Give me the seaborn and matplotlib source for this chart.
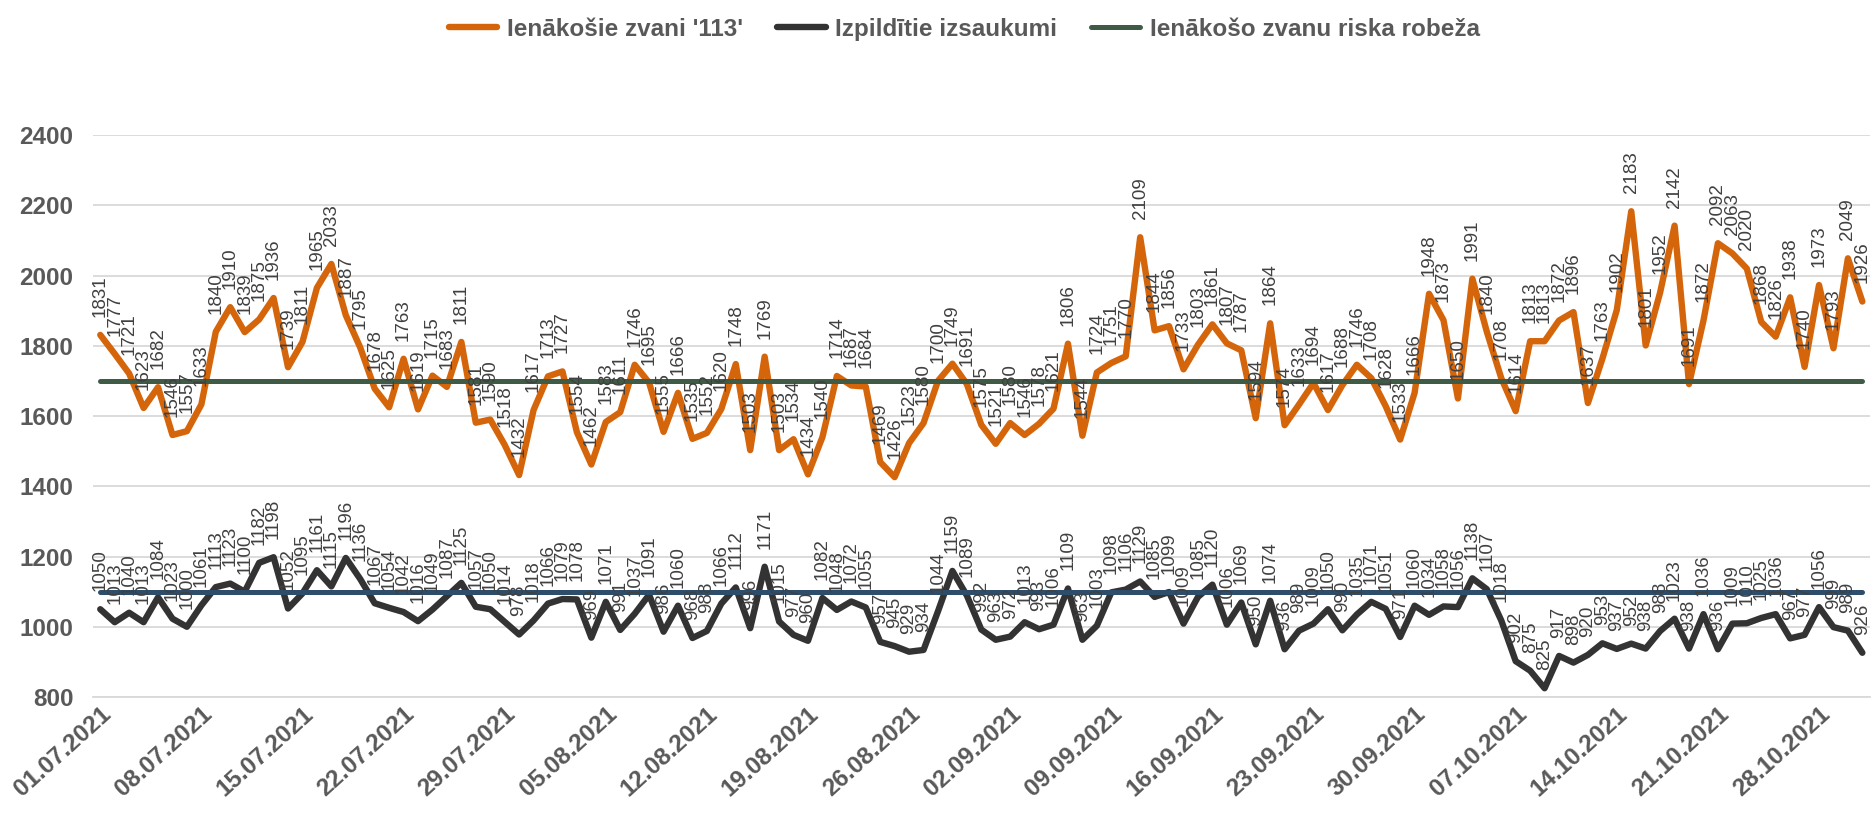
import matplotlib
matplotlib.use("Agg")
import matplotlib.pyplot as plt
import seaborn as sns
import pandas as pd
import numpy as np

# Daily series, 01.07.2021 - 31.10.2021
incoming_calls = [
    1831, 1777, 1721, 1623, 1682, 1546, 1557, 1633, 1840, 1910,
    1839, 1875, 1936, 1739, 1811, 1965, 2033, 1887, 1795, 1678,
    1625, 1763, 1619, 1715, 1683, 1811, 1581, 1590, 1518, 1432,
    1617, 1713, 1727, 1554, 1462, 1583, 1611, 1746, 1695, 1555,
    1666, 1535, 1552, 1620, 1748, 1503, 1769, 1503, 1534, 1434,
    1540, 1714, 1687, 1684, 1469, 1426, 1523, 1580, 1700, 1749,
    1691, 1575, 1521, 1580, 1546, 1578, 1621, 1806, 1544, 1724,
    1751, 1770, 2109, 1844, 1856, 1733, 1803, 1861, 1807, 1787,
    1594, 1864, 1574, 1633, 1694, 1617, 1688, 1746, 1708, 1628,
    1533, 1666, 1948, 1873, 1650, 1991, 1840, 1708, 1614, 1813,
    1813, 1872, 1896, 1637, 1763, 1902, 2183, 1801, 1952, 2142,
    1691, 1872, 2092, 2063, 2020, 1868, 1826, 1938, 1740, 1973,
    1793, 2049, 1926,
]
dispatched_calls = [
    1050, 1013, 1040, 1013, 1084, 1023, 1000, 1061, 1113, 1123,
    1100, 1182, 1198, 1052, 1095, 1161, 1115, 1196, 1136, 1067,
    1054, 1042, 1016, 1049, 1087, 1125, 1057, 1050, 1014, 978,
    1018, 1066, 1079, 1078, 969, 1071, 991, 1037, 1091, 986,
    1060, 968, 988, 1066, 1112, 996, 1171, 1015, 977, 960,
    1082, 1048, 1072, 1055, 957, 945, 929, 934, 1044, 1159,
    1089, 992, 963, 972, 1013, 993, 1006, 1109, 963, 1003,
    1098, 1106, 1129, 1085, 1099, 1009, 1085, 1120, 1006, 1069,
    950, 1074, 936, 989, 1009, 1050, 990, 1035, 1071, 1051,
    971, 1060, 1034, 1058, 1056, 1138, 1107, 1018, 902, 875,
    825, 917, 898, 920, 953, 937, 952, 938, 988, 1023,
    938, 1036, 936, 1009, 1010, 1025, 1036, 967, 977, 1056,
    999, 989, 926,
]
risk_limit = 1700
dispatch_limit = 1100

tick_labels = [
    "01.07.2021", "08.07.2021", "15.07.2021", "22.07.2021", "29.07.2021",
    "05.08.2021", "12.08.2021", "19.08.2021", "26.08.2021", "02.09.2021",
    "09.09.2021", "16.09.2021", "23.09.2021", "30.09.2021", "07.10.2021",
    "14.10.2021", "21.10.2021", "28.10.2021",
]
y_ticks = [800, 1000, 1200, 1400, 1600, 1800, 2000, 2200, 2400]

series_names = ["Ienākošie zvani '113'", "Izpildītie izsaukumi", "Ienākošo zvanu riska robeža"]

C_ORANGE = "#D5650B"
C_DARK = "#333333"
C_GREEN = "#3F5B45"
C_BLUE = "#2D4D6A"
C_LABEL = "#404040"
C_AXIS = "#595959"

sns.set_theme(style="white")
plt.rcParams["font.family"] = ["Liberation Sans", "DejaVu Sans"]

n = len(incoming_calls)
df = pd.DataFrame({
    "day": np.arange(n),
    "incoming": incoming_calls,
    "dispatched": dispatched_calls,
    "risk": [risk_limit] * n,
    "dlimit": [dispatch_limit] * n,
})

fig = plt.figure(figsize=(18.72, 8.16), dpi=100)
ax = fig.add_axes([0.0497, 0.1458, 0.949, 0.6887])

line_kw = dict(solid_joinstyle="round", solid_capstyle="round")
sns.lineplot(data=df, x="day", y="incoming", ax=ax, color=C_ORANGE, lw=4.6,
             label=series_names[0], zorder=3, **line_kw)
sns.lineplot(data=df, x="day", y="dispatched", ax=ax, color=C_DARK, lw=4.6,
             label=series_names[1], zorder=3, **line_kw)
sns.lineplot(data=df, x="day", y="risk", ax=ax, color=C_GREEN, lw=3.6,
             label=series_names[2], zorder=4, **line_kw)
sns.lineplot(data=df, x="day", y="dlimit", ax=ax, color=C_BLUE, lw=3.6,
             label="_nolegend_", zorder=4, **line_kw)

# value labels above every point
for series in (incoming_calls, dispatched_calls):
    for i, v in enumerate(series):
        ax.annotate(str(v), (i, v), xytext=(0, 13), textcoords="offset points",
                    rotation=90, ha="center", va="bottom", fontsize=13.5,
                    color=C_LABEL, zorder=6, annotation_clip=False)

ax.set_xlim(-0.5, n - 0.5)
ax.set_ylim(800, 2400)
ax.set_yticks(y_ticks)
ax.set_yticklabels([str(t) for t in y_ticks], fontsize=17.5, fontweight="bold", color=C_AXIS)
ax.set_xticks(np.arange(0, 7 * len(tick_labels), 7))
ax.set_xticklabels(tick_labels, rotation=42, ha="right", rotation_mode="anchor",
                   fontsize=17.5, fontweight="bold", color=C_AXIS)
ax.tick_params(axis="x", length=0, pad=4)
ax.tick_params(axis="y", length=0, pad=14)
ax.set_xlabel("")
ax.set_ylabel("")
ax.grid(axis="y", color="#D9D9D9", lw=1.3)
ax.grid(axis="x", visible=False)
for s in ("top", "right", "left"):
    ax.spines[s].set_visible(False)
ax.spines["bottom"].set_color("#D9D9D9")
ax.spines["bottom"].set_linewidth(1.3)

handles, labels = ax.get_legend_handles_labels()
ax.get_legend().remove()
leg = fig.legend(handles[:3], labels[:3], loc="upper center", bbox_to_anchor=(0.515, 1.005),
                 ncol=3, frameon=False, handlelength=2.0, columnspacing=1.4,
                 handletextpad=0.4, prop={"size": 17.5, "weight": "bold"})
for t in leg.get_texts():
    t.set_color(C_AXIS)

fig.savefig("out.png", dpi=100)
